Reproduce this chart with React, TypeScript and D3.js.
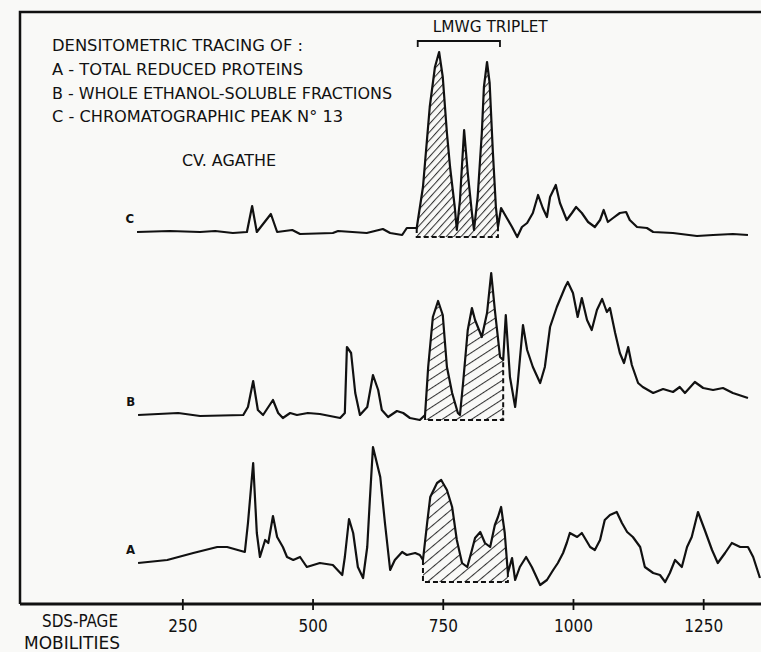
import { useRef, useEffect } from 'react'
import { select, scaleLinear, line, area, axisBottom } from 'd3'

// [SDS-PAGE mobility, density above the tracing's own baseline]
const traceC: [number, number][] = [
  [163, 5], [226, 6], [284, 5], [313, 6], [347, 4], [374, 5], [384, 31], [393, 5],
  [420, 23], [432, 5], [461, 7], [476, 3], [539, 4], [549, 6], [604, 4], [635, 8],
  [649, 4], [672, 2], [681, 9], [700, 9], [712, 50], [725, 130], [735, 170], [743, 185],
  [750, 160], [758, 104], [764, 70], [773, 30], [777, 7], [783, 37], [791, 107], [798, 64],
  [806, 24], [810, 7], [817, 40], [825, 104], [829, 150], [835, 175], [840, 154], [846, 87],
  [852, 30], [856, 10], [862, 29], [873, 19], [883, 10], [893, 0], [902, 10], [912, 14],
  [923, 24], [933, 42], [942, 29], [950, 20], [956, 40], [967, 52], [975, 34], [988, 17],
  [998, 24], [1006, 30], [1017, 24], [1029, 15], [1042, 10], [1052, 17], [1059, 27], [1067, 15],
  [1077, 19], [1090, 24], [1102, 25], [1109, 17], [1123, 10], [1142, 9], [1154, 5], [1192, 4],
  [1238, 1], [1269, 2], [1307, 3], [1336, 2],
]

const traceB: [number, number][] = [
  [165, 5], [242, 7], [284, 4], [367, 5], [376, 13], [386, 39], [395, 10], [405, 5],
  [424, 20], [434, 7], [443, 2], [457, 7], [470, 5], [491, 7], [514, 6], [553, 2],
  [562, 7], [566, 73], [574, 67], [582, 27], [591, 5], [605, 13], [616, 45], [626, 30],
  [633, 10], [645, 3], [662, 9], [674, 7], [687, 2], [706, 0], [716, 5], [722, 53],
  [731, 103], [741, 119], [750, 105], [758, 53], [768, 27], [779, 7], [783, 5], [789, 37],
  [798, 90], [806, 112], [812, 100], [825, 83], [835, 107], [843, 147], [850, 110], [860, 63],
  [866, 60], [871, 105], [879, 43], [889, 13], [894, 37], [904, 95], [912, 70], [923, 53],
  [937, 37], [946, 53], [956, 93], [969, 113], [985, 133], [990, 138], [1000, 127], [1009, 103],
  [1017, 122], [1027, 100], [1036, 90], [1046, 110], [1056, 121], [1065, 108], [1071, 112], [1081, 87],
  [1090, 67], [1098, 57], [1106, 73], [1113, 55], [1125, 37], [1134, 33], [1154, 27], [1173, 31],
  [1192, 28], [1205, 33], [1215, 27], [1234, 38], [1250, 32], [1269, 30], [1288, 32], [1307, 27],
  [1336, 22],
]

const traceA: [number, number][] = [
  [165, 19], [221, 22], [271, 29], [317, 35], [336, 35], [370, 30], [376, 59], [386, 119],
  [393, 49], [399, 25], [409, 42], [415, 39], [424, 66], [432, 45], [443, 35], [451, 25],
  [463, 22], [476, 25], [489, 15], [514, 19], [539, 17], [557, 7], [562, 25], [570, 63],
  [578, 49], [587, 15], [597, 4], [605, 35], [610, 82], [616, 135], [630, 105], [639, 59],
  [649, 12], [658, 22], [672, 30], [681, 27], [697, 29], [706, 27], [712, 22], [720, 59],
  [726, 85], [739, 99], [747, 102], [758, 92], [768, 75], [777, 42], [787, 19], [797, 15],
  [806, 32], [812, 44], [822, 50], [831, 39], [841, 35], [850, 57], [856, 65], [862, 75],
  [869, 49], [875, 9], [883, 24], [889, 2], [898, 15], [910, 25], [921, 15], [937, -3],
  [950, 2], [962, 12], [971, 19], [981, 29], [988, 39], [994, 49], [1008, 45], [1017, 49],
  [1033, 35], [1042, 32], [1052, 42], [1061, 62], [1071, 67], [1084, 70], [1094, 59], [1104, 50],
  [1115, 45], [1129, 35], [1138, 15], [1154, 9], [1167, 7], [1177, 0], [1186, 9], [1196, 22],
  [1209, 15], [1219, 35], [1228, 45], [1240, 70], [1253, 52], [1267, 32], [1278, 19], [1292, 29],
  [1305, 39], [1321, 35], [1336, 35], [1346, 25], [1359, 4],
]

const traceNames = ['A', 'B', 'C']
const traces = [traceA, traceB, traceC]
const traceOffsets = [22, 184, 367]
// LMWG triplet region (mobility) of each tracing
const tripletRanges: [number, number][] = [[712, 875], [716, 866], [700, 856]]
const tickValues = [250, 500, 750, 1000, 1250]
const legendLines = [
  'DENSITOMETRIC TRACING OF :',
  'A - TOTAL REDUCED PROTEINS',
  'B - WHOLE ETHANOL-SOLUBLE FRACTIONS',
  'C - CHROMATOGRAPHIC PEAK N° 13',
]
const cultivar = 'CV. AGATHE'
const bracketLabel = 'LMWG TRIPLET'
const axisTitle = ['SDS-PAGE', 'MOBILITIES']

const FONT = '"DejaVu Sans Condensed", "DejaVu Sans", sans-serif'

const App = () => {
  const svgRef = useRef<SVGSVGElement>(null)

  function renderChart() {
    const svg = select(svgRef.current)
    svg.selectAll('*').remove()

    const xScale = scaleLinear().domain([-54, 1361]).range([24, 761])
    const yScale = scaleLinear().domain([0, 592]).range([604, 12])

    svg.append('rect').attr('width', 761).attr('height', 652).attr('fill', '#f9f9f7')

    // hatch patterns (a bit different on each tracing, as drawn by hand)
    const defs = svg.append('defs')
    const hatch = [
      { spacing: 8, angle: 50 },
      { spacing: 8, angle: 57 },
      { spacing: 5.5, angle: 42 },
    ]
    hatch.forEach((h, i) => {
      defs
        .append('pattern')
        .attr('id', `hatch${i}`)
        .attr('patternUnits', 'userSpaceOnUse')
        .attr('width', h.spacing)
        .attr('height', h.spacing)
        .attr('patternTransform', `rotate(${h.angle})`)
        .append('line')
        .attr('x1', 0.5)
        .attr('y1', 0)
        .attr('x2', 0.5)
        .attr('y2', h.spacing)
        .attr('stroke', '#333')
        .attr('stroke-width', 1.1)
    })

    // frame: left side and top
    svg
      .append('path')
      .attr('d', `M20,${yScale(0)}V12H761`)
      .attr('fill', 'none')
      .attr('stroke', '#111')
      .attr('stroke-width', 2.5)

    traces.forEach((data, i) => {
      const off = traceOffsets[i]
      const [lo, hi] = tripletRanges[i]
      const inside = data.filter((d) => d[0] >= lo && d[0] <= hi)

      const areaGen = area<[number, number]>()
        .x((d) => xScale(d[0]))
        .y0(yScale(off))
        .y1((d) => yScale(d[1] + off))

      svg.append('path').attr('d', areaGen(inside)).attr('fill', `url(#hatch${i})`)

      const first = inside[0]
      const last = inside[inside.length - 1]
      svg
        .append('path')
        .attr(
          'd',
          `M${xScale(first[0])},${yScale(first[1] + off)}V${yScale(off)}H${xScale(last[0])}V${yScale(last[1] + off)}`
        )
        .attr('fill', 'none')
        .attr('stroke', '#111')
        .attr('stroke-width', 2)
        .attr('stroke-dasharray', '5 3')

      const lineGen = line<[number, number]>()
        .x((d) => xScale(d[0]))
        .y((d) => yScale(d[1] + off))

      svg
        .append('path')
        .attr('d', lineGen(data))
        .attr('fill', 'none')
        .attr('stroke', '#111')
        .attr('stroke-width', 2.2)
        .style('stroke-linejoin', 'round')

      svg
        .append('text')
        .attr('x', xScale(data[0][0]) - 3)
        .attr('y', yScale(data[0][1] + off) - 9)
        .attr('text-anchor', 'end')
        .attr('font-family', FONT)
        .attr('font-weight', 'bold')
        .attr('font-size', 13)
        .attr('fill', '#111')
        .text(traceNames[i])
    })

    // bracket over the triplet
    const bx0 = xScale(tripletRanges[2][0]) + 1
    const bx1 = xScale(tripletRanges[2][1]) + 2
    svg
      .append('path')
      .attr('d', `M${bx0},47V41H${bx1}V47`)
      .attr('fill', 'none')
      .attr('stroke', '#111')
      .attr('stroke-width', 1.8)
    svg
      .append('text')
      .attr('x', bx0 + 15)
      .attr('y', 32)
      .attr('textLength', 115)
      .attr('lengthAdjust', 'spacingAndGlyphs')
      .attr('font-family', FONT)
      .attr('font-size', 15)
      .attr('fill', '#111')
      .text(bracketLabel)

    // x axis
    svg
      .append('line')
      .attr('x1', 20)
      .attr('x2', 761)
      .attr('y1', yScale(0))
      .attr('y2', yScale(0))
      .attr('stroke', '#111')
      .attr('stroke-width', 3)

    const axisGroup = svg
      .append('g')
      .attr('transform', `translate(0, ${yScale(0)})`)
      .call(
        axisBottom(xScale)
          .tickValues(tickValues)
          .tickFormat((d) => String(d))
          .tickSize(6)
          .tickSizeOuter(0)
          .tickPadding(10)
      )
    axisGroup.select('.domain').remove()
    axisGroup.selectAll('.tick line').attr('y1', -5).attr('stroke', '#111').attr('stroke-width', 1.8)
    axisGroup
      .selectAll('.tick text')
      .attr('font-family', FONT)
      .attr('font-size', 17)
      .attr('fill', '#111')
      .style('font-stretch', 'condensed')

    axisTitle.forEach((t, i) => {
      svg
        .append('text')
        .attr('x', i === 0 ? 42 : 24)
        .attr('y', i === 0 ? 627 : 649)
        .attr('textLength', i === 0 ? 76 : 96)
        .attr('lengthAdjust', 'spacingAndGlyphs')
        .attr('font-family', FONT)
        .attr('font-size', 17)
        .attr('fill', '#111')
        .text(t)
    })

    // legend block
    const legendY = [51, 75, 99, 122]
    const legendW = [251, 251, 340, 291]
    legendLines.forEach((t, i) => {
      svg
        .append('text')
        .attr('x', 52)
        .attr('y', legendY[i])
        .attr('textLength', legendW[i])
        .attr('lengthAdjust', 'spacingAndGlyphs')
        .attr('font-family', FONT)
        .attr('font-size', 16)
        .attr('fill', '#111')
        .text(t)
    })
    svg
      .append('text')
      .attr('x', 182)
      .attr('y', 166)
      .attr('textLength', 94)
      .attr('lengthAdjust', 'spacingAndGlyphs')
      .attr('font-family', FONT)
      .attr('font-size', 16)
      .attr('fill', '#111')
      .text(cultivar)
  }

  useEffect(() => {
    renderChart()
  }, [])

  return (
    <div>
      <svg
        width="761"
        height="652"
        ref={svgRef}
        style={{ position: 'absolute', left: 0, top: 0 }}
      ></svg>
    </div>
  )
}

export default App
